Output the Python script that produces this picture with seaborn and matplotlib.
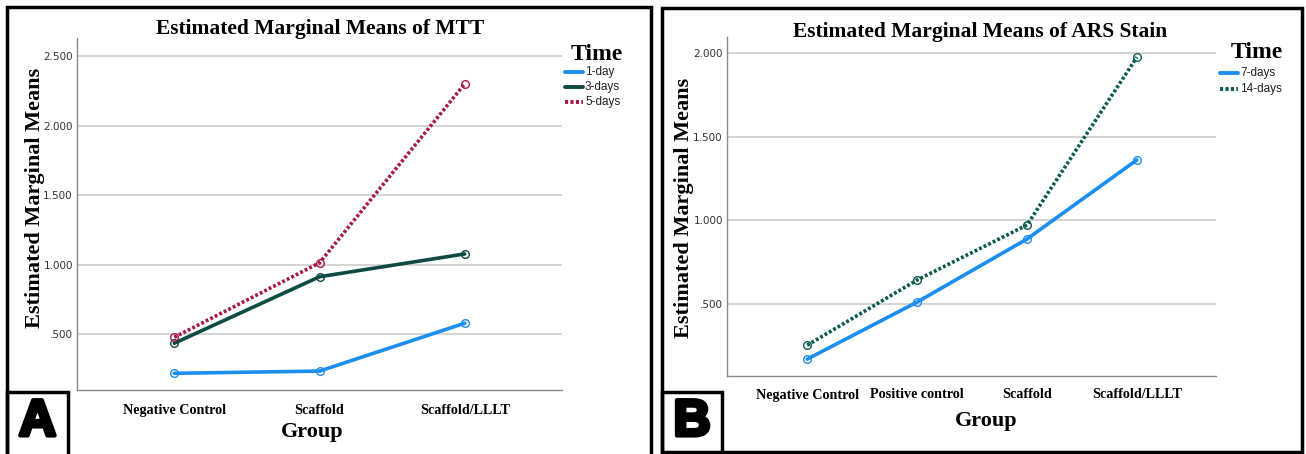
import pandas as pd
import matplotlib.pyplot as plt
import seaborn as sns
from matplotlib.lines import Line2D
from matplotlib.patches import Rectangle
import matplotlib.patheffects as pe

# Panel A - MTT
groups_a = ['Negative Control', 'Scaffold', 'Scaffold/LLLT']
mtt_1day = [0.22, 0.236, 0.58]
mtt_3days = [0.436, 0.914, 1.078]
mtt_5days = [0.479, 1.014, 2.30]
times_a = ['1-day', '3-days', '5-days']
yticks_a = [0.5, 1.0, 1.5, 2.0, 2.5]
yticklabels_a = ['.500', '1.000', '1.500', '2.000', '2.500']

# Panel B - ARS stain
groups_b = ['Negative Control', 'Positive control', 'Scaffold', 'Scaffold/LLLT']
ars_7days = [0.171, 0.512, 0.889, 1.362]
ars_14days = [0.254, 0.644, 0.973, 1.976]
times_b = ['7-days', '14-days']
yticks_b = [0.5, 1.0, 1.5, 2.0]
yticklabels_b = ['.500', '1.000', '1.500', '2.000']

BLUE = '#1b8ef0'
TEAL = '#0e4a44'
CRIMSON = '#a8174a'
TEAL2 = '#0b5a50'

df_a = pd.DataFrame({
    'Group': groups_a * 3,
    'Mean': mtt_1day + mtt_3days + mtt_5days,
    'Time': [t for t in times_a for _ in groups_a],
})
df_b = pd.DataFrame({
    'Group': groups_b * 2,
    'Mean': ars_7days + ars_14days,
    'Time': [t for t in times_b for _ in groups_b],
})

sns.set_theme(style='white')
plt.rcParams['font.family'] = ['Liberation Serif', 'DejaVu Serif']
plt.rcParams['text.color'] = 'black'

W, H = 1306, 454
fig = plt.figure(figsize=(W / 100, H / 100), dpi=100)


def px_axes(l, t, r, b):
    return fig.add_axes([l / W, 1 - b / H, (r - l) / W, (b - t) / H])


def style_axes(ax, ylim, xlim, yticks, yticklabels):
    ax.set_ylim(*ylim)
    ax.set_xlim(*xlim)
    ax.set_yticks(yticks)
    ax.set_yticklabels(yticklabels, fontfamily='Liberation Sans Narrow', fontsize=7.5,
                       color='#333333')
    ax.yaxis.grid(True, color='#d4d4d4', linewidth=1.4)
    ax.xaxis.grid(False)
    ax.set_axisbelow(True)
    for s in ['top', 'right']:
        ax.spines[s].set_visible(False)
    for s in ['left', 'bottom']:
        ax.spines[s].set_color('#8a8a8a')
        ax.spines[s].set_linewidth(1.0)
    ax.tick_params(axis='both', length=0, pad=3)
    for lab in ax.get_xticklabels():
        lab.set_fontweight('bold')
        lab.set_fontsize(10.2)
        lab.set_color('black')
        lab.set_fontfamily('Liberation Serif')
    # hollow markers with coloured edge
    for line in ax.lines:
        line.set_markeredgecolor(line.get_color())
    ax.set_xlabel('')
    ax.set_ylabel('')


# ---- Panel A ----
ax_a = px_axes(77, 38, 562, 390)
pal_a = {'1-day': BLUE, '3-days': TEAL, '5-days': CRIMSON}
dash_a = {'1-day': '', '3-days': '', '5-days': (0.8, 0.6)}
sns.lineplot(data=df_a, x='Group', y='Mean', hue='Time', style='Time',
             palette=pal_a, dashes=dash_a, linewidth=2.6, marker='o',
             markersize=5.5, markerfacecolor='none', markeredgewidth=1.0,
             sort=False, legend=False, ax=ax_a)
style_axes(ax_a, (0.1, 2.63), (-0.67, 2.67), yticks_a, yticklabels_a)
ax_a.tick_params(axis='x', pad=10)

# ---- Panel B ----
ax_b = px_axes(727, 37, 1216, 376)
pal_b = {'7-days': BLUE, '14-days': TEAL2}
dash_b = {'7-days': '', '14-days': (0.8, 0.6)}
sns.lineplot(data=df_b, x='Group', y='Mean', hue='Time', style='Time',
             palette=pal_b, dashes=dash_b, linewidth=2.6, marker='o',
             markersize=5.5, markerfacecolor='none', markeredgewidth=1.0,
             sort=False, legend=False, ax=ax_b)
style_axes(ax_b, (0.07, 2.097), (-0.73, 3.72), yticks_b, yticklabels_b)
ax_b.tick_params(axis='x', pad=9)

# titles and labels
fig.text(320 / W, 1 - 29 / H, 'Estimated Marginal Means of MTT', ha='center', va='center',
         fontsize=15.5, fontweight='bold')
fig.text(980 / W, 1 - 32 / H, 'Estimated Marginal Means of ARS Stain', ha='center', va='center',
         fontsize=15.5, fontweight='bold')
fig.text(35 / W, 1 - 198 / H, 'Estimated Marginal Means', rotation=90, ha='center', va='center',
         fontsize=16, fontweight='bold')
fig.text(684 / W, 1 - 208 / H, 'Estimated Marginal Means', rotation=90, ha='center', va='center',
         fontsize=16, fontweight='bold')
fig.text(312 / W, 1 - 432 / H, 'Group', ha='center', va='center', fontsize=16, fontweight='bold')
fig.text(986 / W, 1 - 421 / H, 'Group', ha='center', va='center', fontsize=16, fontweight='bold')


# legends
def legend(x_title, y_title, x_handle, y_first, step, names, colors, styles):
    fig.text(x_title / W, 1 - y_title / H, 'Time', ha='center', va='center',
             fontsize=17, fontweight='bold')
    for i, (n, c, ls) in enumerate(zip(names, colors, styles)):
        y = 1 - (y_first + i * step) / H
        fig.add_artist(Line2D([x_handle / W, (x_handle + 18) / W], [y, y], color=c,
                              linewidth=2.8, linestyle=ls))
        fig.text((x_handle + 20) / W, y, n, ha='left', va='center', fontsize=8.5,
                 fontfamily='Liberation Sans', color='#222222')


legend(597, 55, 565, 72, 15, times_a, [BLUE, TEAL, CRIMSON], ['-', '-', (0, (0.8, 0.6))])
legend(1257, 53, 1220, 73, 16, times_b, [BLUE, TEAL2], ['-', (0, (0.8, 0.6))])

# frames
for l, t, r, b in [(7, 7, 651, 456), (662, 8, 1302, 452)]:
    fig.add_artist(Rectangle((l / W, 1 - b / H), (r - l) / W, (b - t) / H, fill=False,
                             edgecolor='black', linewidth=2.5, transform=fig.transFigure))

# panel letter boxes
for l, r, letter in [(7, 68, 'A'), (662, 722, 'B')]:
    fig.add_artist(Rectangle((l / W, 1 - 456 / H), (r - l) / W, 64 / H, fill=False,
                             edgecolor='black', linewidth=2.5, transform=fig.transFigure))
    fig.text((l + r) / 2 / W, 1 - 422 / H, letter, ha='center', va='center', fontsize=37,
             fontweight='bold', fontfamily='Liberation Sans', color='black',
             path_effects=[pe.withStroke(linewidth=3, foreground='black')])

fig.savefig('out.png', dpi=100, facecolor='white')
